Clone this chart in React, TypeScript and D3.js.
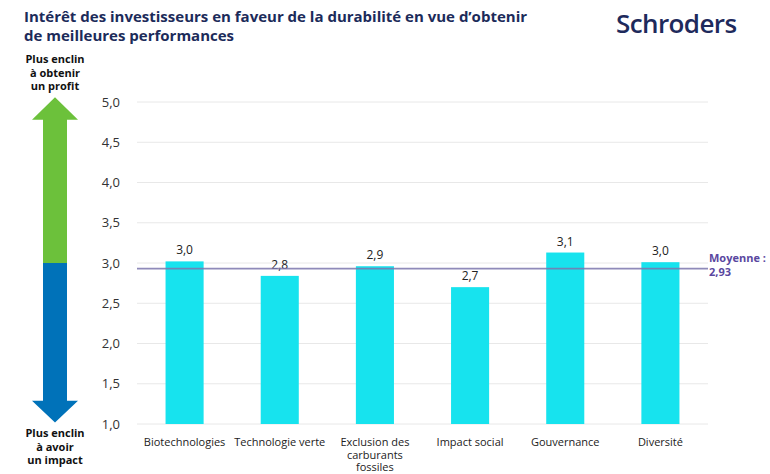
import * as d3 from 'd3'

const categories = [
  ['Biotechnologies'],
  ['Technologie verte'],
  ['Exclusion des', 'carburants', 'fossiles'],
  ['Impact social'],
  ['Gouvernance'],
  ['Diversité'],
]
const values = [3.02, 2.84, 2.96, 2.7, 3.13, 3.01]
const valueLabels = ['3,0', '2,8', '2,9', '2,7', '3,1', '3,0']
const yTicks = [1, 1.5, 2, 2.5, 3, 3.5, 4, 4.5, 5]
const average = 2.93
const averageLabel = ['Moyenne :', '2,93']
const titleLines = [
  'Intérêt des investisseurs en faveur de la durabilité en vue d’obtenir',
  'de meilleures performances',
]
const topLabel = ['Plus enclin', 'à obtenir', 'un profit']
const bottomLabel = ['Plus enclin', 'à avoir', 'un impact']

const W = 770
const H = 474
const font = '"Open Sans", "Noto Sans", sans-serif'

export default function App() {
  const x = d3
    .scaleBand<number>()
    .domain(d3.range(categories.length))
    .range([137, 708])
    .paddingInner(0.6)
    .paddingOuter(0.3)
  const y = d3.scaleLinear().domain([1, 5]).range([424, 102])

  // arrow on the left, on the same scale
  const ax = 55
  const shaft = 12
  const head = 23
  const up = [
    [ax, y(5.06)],
    [ax + head, y(4.78)],
    [ax + shaft, y(4.78)],
    [ax + shaft, y(3)],
    [ax - shaft, y(3)],
    [ax - shaft, y(4.78)],
    [ax - head, y(4.78)],
  ]
  const down = [
    [ax - shaft, y(3)],
    [ax + shaft, y(3)],
    [ax + shaft, y(1.29)],
    [ax + head, y(1.29)],
    [ax, y(1.02)],
    [ax - head, y(1.29)],
    [ax - shaft, y(1.29)],
  ]
  const poly = (p: number[][]) => p.map(d => d.join(',')).join(' ')

  return (
    <svg width={W} height={H} style={{ position: 'absolute', left: 0, top: 0, fontFamily: font }}>
      <rect width={W} height={H} fill="#fff" />

      {/* title */}
      {titleLines.map((t, i) => (
        <text key={i} x={24} y={22 + i * 19} fontSize={15} fontWeight={700} fill="#1c2b5a">
          {t}
        </text>
      ))}
      <text x={616} y={33} fontSize={26} fontWeight={600} fill="#1e2a5c" letterSpacing={-0.6}>
        Schroders
      </text>

      {/* gridlines + y labels */}
      {yTicks.map(t => (
        <g key={t}>
          <line x1={137} x2={708} y1={y(t)} y2={y(t)} stroke="#e8e8e8" strokeWidth={1} />
          <text x={120} y={y(t)} dy="0.35em" textAnchor="end" fontSize={13} fill="#333">
            {d3.format('.1f')(t).replace('.', ',')}
          </text>
        </g>
      ))}

      {/* arrow */}
      <polygon points={poly(up)} fill="#6cc13b" />
      <polygon points={poly(down)} fill="#0072b9" />
      {topLabel.map((t, i) => (
        <text key={i} x={ax} y={63 + i * 13.5} textAnchor="middle" fontSize={11} fontWeight={700} fill="#111">
          {t}
        </text>
      ))}
      {bottomLabel.map((t, i) => (
        <text key={i} x={ax} y={437 + i * 13.5} textAnchor="middle" fontSize={11} fontWeight={700} fill="#111">
          {t}
        </text>
      ))}

      {/* bars */}
      {values.map((v, i) => (
        <g key={i}>
          <rect x={x(i)} y={y(v)} width={x.bandwidth()} height={y(1) - y(v)} fill="#17e3ee" />
          <text x={x(i)! + x.bandwidth() / 2} y={y(v) - 7} textAnchor="middle" fontSize={12} fill="#222">
            {valueLabels[i]}
          </text>
          {categories[i].map((c, j) => (
            <text key={j} x={x(i)! + x.bandwidth() / 2} y={446 + j * 12.5} textAnchor="middle" fontSize={11} fill="#222">
              {c}
            </text>
          ))}
        </g>
      ))}

      {/* average line */}
      <line x1={137} x2={708} y1={y(average)} y2={y(average)} stroke="#7b76ad" strokeOpacity={0.85} strokeWidth={1.6} />
      {averageLabel.map((t, i) => (
        <text key={i} x={709} y={262 + i * 14} fontSize={11} fontWeight={700} fill="#5a47a0">
          {t}
        </text>
      ))}
    </svg>
  )
}
